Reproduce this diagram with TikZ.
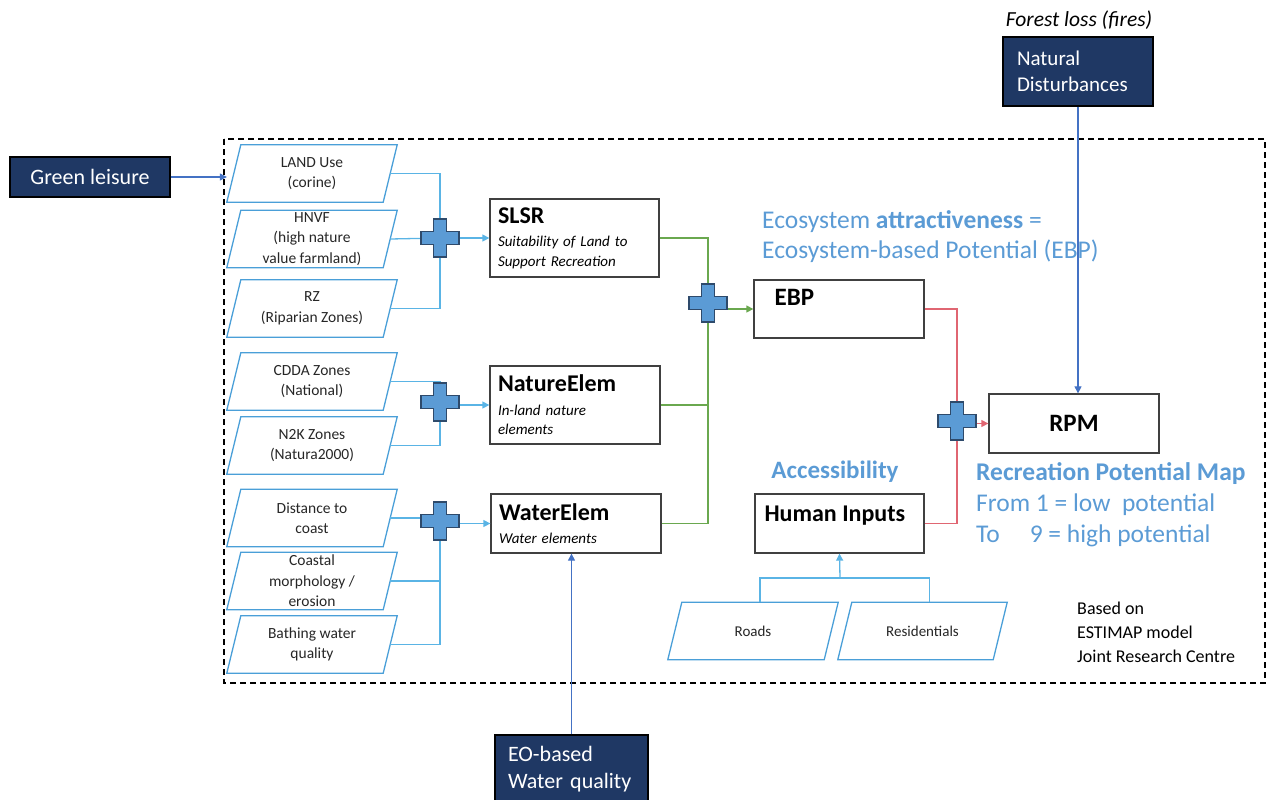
\documentclass[tikz,border=0pt]{standalone}
\usepackage{fontspec}
\setmainfont{Carlito}
\usetikzlibrary{arrows.meta,calc}

\definecolor{navy}{HTML}{1F3864}
\definecolor{skytext}{HTML}{5B9BD5}
\definecolor{paraedge}{HTML}{4A9FD8}
\definecolor{feedline}{HTML}{5AB4E5}
\definecolor{extline}{HTML}{4472C4}
\definecolor{greenline}{HTML}{6AA84F}
\definecolor{redline}{HTML}{E06672}
\definecolor{boxgray}{HTML}{404040}
\definecolor{plusfill}{HTML}{5B9BD5}
\definecolor{plusedge}{HTML}{2E4A6B}

\newcommand\fsz[2]{\fontsize{#1pt}{#2pt}\selectfont}

% slanted input box: a rectangle node carrying the text, outlined as a parallelogram
\newcommand\slantbox[5]{%
  \node[paratext, minimum width=#5] (#1) at (#2,#3) {#4};
  \draw[paraline] ([xshift=14pt]#1.north west) -- (#1.north east)
    -- ([xshift=-14pt]#1.south east) -- (#1.south west) -- cycle;}

% plus-shaped combination mark
\newcommand\plusmark[3]{%
  \coordinate (#1) at (#2,#3);
  \draw[plusstyle] ($(#1)+(-6.5,-19)$) -- ($(#1)+(6.5,-19)$) -- ($(#1)+(6.5,-6.5)$)
    -- ($(#1)+(19,-6.5)$) -- ($(#1)+(19,6.5)$) -- ($(#1)+(6.5,6.5)$)
    -- ($(#1)+(6.5,19)$) -- ($(#1)+(-6.5,19)$) -- ($(#1)+(-6.5,6.5)$)
    -- ($(#1)+(-19,6.5)$) -- ($(#1)+(-19,-6.5)$) -- ($(#1)+(-6.5,-6.5)$) -- cycle;}

\tikzset{
  x=1pt, y=-1pt,
  paratext/.style={minimum height=57pt, inner sep=0pt, align=center,
    font=\fsz{15.5}{20.5}, text=black!85},
  paraline/.style={draw=paraedge, line width=1.3pt},
  feed/.style={draw=feedline, line width=1.3pt},
  tip/.style={-{Triangle[length=7pt,width=7pt]}},
  plusstyle/.style={fill=plusfill, draw=plusedge, line width=1.2pt},
  modelbox/.style={draw=boxgray, fill=white, line width=1.3pt, inner xsep=8pt,
    inner ysep=0pt, align=left},
  navybox/.style={draw=black, fill=navy, line width=1.2pt, text=white, inner sep=0pt},
  gline/.style={draw=greenline, line width=1.3pt},
  rline/.style={draw=redline, line width=1.3pt},
  xline/.style={draw=extline, line width=1.1pt},
}

\begin{document}
\begin{tikzpicture}
\useasboundingbox (0,0) rectangle (1266,800);

% model frame
\draw[line width=1.3pt, dash pattern=on 6pt off 4pt] (224,139) rectangle (1265,683);

% ---------- inputs ----------
\slantbox{land}{312}{173.5}{LAND Use\\(corine)}{170pt}
\slantbox{hnvf}{312}{239}{HNVF\\(high nature\\value farmland)}{170pt}
\slantbox{rz}{312}{308.5}{RZ\\(Riparian Zones)}{170pt}
\slantbox{cdda}{312}{381.5}{CDDA Zones\\(National)}{170pt}
\slantbox{ntk}{312}{445.5}{N2K Zones\\(Natura2000)}{170pt}
\slantbox{dist}{312}{518}{Distance to\\coast}{170pt}
\slantbox{coast}{312}{581}{Coastal\\morphology /\\erosion}{170pt}
\slantbox{bath}{312}{644.5}{Bathing water\\quality}{170pt}
\slantbox{roads}{753}{631}{\fsz{15}{18}Roads}{170pt}
\slantbox{resid}{922.5}{631}{\fsz{15}{18}Residentials}{169pt}

% ---------- model nodes ----------
\node[modelbox, minimum width=169pt, minimum height=78pt, text width=153pt, font=\fsz{15}{19.5}] (slsr) at (574.5,238)
  {{\fsz{24}{27}\bfseries SLSR}\\[4pt]\itshape Suitability of Land to\\Support Recreation};
\node[modelbox, minimum width=170pt, minimum height=78pt, text width=154pt, font=\fsz{15}{19.5}] (nature) at (575,405)
  {{\fsz{24}{27}\bfseries NatureElem}\\[4pt]\itshape In-land nature\\elements};
\node[modelbox, minimum width=170pt, minimum height=59pt, text width=154pt, font=\fsz{15}{19.5}] (water) at (576,523.5)
  {{\fsz{24}{27}\bfseries WaterElem}\\[3pt]\itshape Water elements};
\node[modelbox, minimum width=170pt, minimum height=58pt] (ebp) at (839,309) {};
\node[anchor=west, inner sep=0pt, font=\fsz{25}{28}\bfseries] (ebplbl) at ([xshift=21pt,yshift=12pt]ebp.west) {EBP};
\node[modelbox, minimum width=170pt, minimum height=59pt, align=center] (rpm) at (1074,423.5)
  {\fsz{25}{28}\bfseries RPM};
\node[modelbox, minimum width=169pt, minimum height=59pt] (human) at (839.5,523.5) {};
\node[anchor=west, inner sep=0pt, font=\fsz{24}{27}\bfseries] (humanlbl) at ([xshift=10pt,yshift=8pt]human.west) {Human Inputs};

% ---------- outside drivers ----------
\node[navybox, minimum width=160pt, minimum height=40pt, font=\fsz{22}{26}] (gl) at (90,177) {Green leisure};
\node[navybox, inner xsep=14pt, minimum height=69pt, text width=122pt, align=left,
  font=\fsz{21}{26}] (nd) at (1078,71.5) {Natural\\Disturbances};
\node[font=\fsz{21.5}{24}\itshape, inner sep=0pt] (ndlbl) at (1079,20) {Forest loss (fires)};
\node[navybox, inner xsep=13pt, minimum height=68pt, text width=127pt, align=left,
  font=\fsz{22}{27}] (eo) at (571.5,769) {EO-based\\Water quality};

% ---------- annotations ----------
\node[anchor=west, align=left, inner sep=0pt, text=skytext, font=\fsz{25.5}{30}] (ecolbl) at (762,237)
  {Ecosystem \textbf{attractiveness} =\\Ecosystem-based Potential (EBP)};
\node[anchor=center, inner sep=0pt, text=skytext, font=\fsz{25}{28}\bfseries] (acclbl) at (835,472) {Accessibility};
\node[anchor=west, align=left, inner sep=0pt, text=skytext, font=\fsz{25.5}{31}] (rpmlbl) at (976,505)
  {\textbf{Recreation Potential Map}\\From 1 = low\ \ potential\\To\hspace{30pt}9 = high potential};
\node[anchor=west, align=left, inner sep=0pt, font=\fsz{18}{24}] (srclbl) at (1077,632)
  {Based on\\ESTIMAP model\\Joint Research Centre};

% ---------- combination marks ----------
\coordinate (p1) at (440,238);
\coordinate (p2) at (440,402);
\coordinate (p3) at (440,521);
\coordinate (p4) at (708,303);
\coordinate (p5) at (957,421);
\coordinate (hj) at (840,578);

% input feeds
\draw[feed] ([xshift=-7pt]land.east) -- (land.east -| p1) -- (rz.east -| p1) -- ([xshift=-7pt]rz.east);
\draw[feed] ([xshift=-7pt]hnvf.east) -- (p1);
\draw[feed, tip] (p1 |- slsr.west) -- (slsr.west);
\draw[feed] ([xshift=-7pt]cdda.east) -- (cdda.east -| p2) -- (ntk.east -| p2) -- ([xshift=-7pt]ntk.east);
\draw[feed, tip] (p2 |- nature.west) -- (nature.west);
\draw[feed] ([xshift=-7pt]dist.east) -- (dist.east -| p3) -- (bath.east -| p3) -- ([xshift=-7pt]bath.east);
\draw[feed] ([xshift=-7pt]coast.east) -- (coast.east -| p3);
\draw[feed, tip] (p3 |- water.west) -- (water.west);
\draw[feed] ([xshift=7pt]roads.north) |- (hj) -| ([xshift=7pt]resid.north);
\draw[feed, tip] (hj) -- (human.south);

% model flows
\draw[gline] (slsr.east) -| (p4);
\draw[gline] (water.east) -| (p4);
\draw[gline] (nature.east) -- (nature.east -| p4);
\draw[gline, tip] (p4 |- ebp.west) -- (ebp.west);
\draw[rline] (ebp.east) -| (p5);
\draw[rline] (human.east) -| (p5);
\draw[rline, tip] (p5 |- rpm.west) -- (rpm.west);

% outside drivers
\draw[xline, tip] (gl.east) -- (gl.east -| land.south west);
\draw[xline, tip] (nd.south) -- (nd.south |- rpm.north);
\draw[xline, tip] (eo.north) -- (eo.north |- water.south);

\plusmark{m1}{440}{238}
\plusmark{m2}{440}{402}
\plusmark{m3}{440}{521}
\plusmark{m4}{708}{303}
\plusmark{m5}{957}{421}
\end{tikzpicture}
\end{document}
